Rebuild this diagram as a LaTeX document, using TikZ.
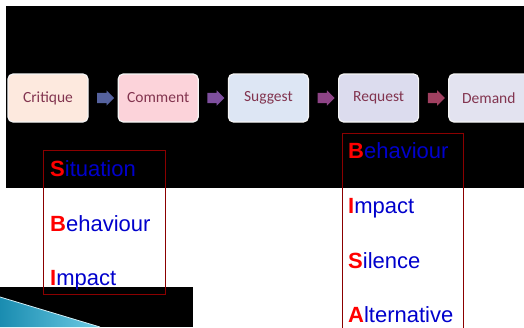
\documentclass[tikz,border=0pt]{standalone}
\usepackage{fontspec}
\setmainfont{Liberation Sans}
\newfontfamily\stagefont{Carlito}
\usetikzlibrary{shapes.arrows,positioning}
\definecolor{stagetext}{HTML}{82344F}
\definecolor{framered}{HTML}{8B0000}
\definecolor{wordblue}{HTML}{0000CC}
\definecolor{wordred}{HTML}{FF0000}
\definecolor{tealdark}{HTML}{1A8CB0}
\definecolor{teallight}{HTML}{6CCBE4}
\definecolor{critfill}{HTML}{FDE9DE}
\definecolor{commfill}{HTML}{FCD3DA}
\definecolor{suggfill}{HTML}{DDE6F4}
\definecolor{requfill}{HTML}{DCDCEE}
\definecolor{demafill}{HTML}{E3E3F0}
\definecolor{arrone}{HTML}{55629E}
\definecolor{arrtwo}{HTML}{7E4F9E}
\definecolor{arrthree}{HTML}{8E4486}
\definecolor{arrfour}{HTML}{A04060}
\newcommand{\initial}[2]{\textcolor{wordred}{\textbf{#1}}#2}
\begin{document}
\begin{tikzpicture}[x=1pt,y=-1pt,
 stage/.style={draw=white!92!gray,line width=1.2pt,rounded corners=5pt,
  minimum width=80pt,minimum height=48pt,inner sep=0pt,
  font=\stagefont\fontsize{15.5}{18}\selectfont,text=stagetext},
 arr/.style={single arrow,draw=none,minimum height=17pt,inner xsep=0pt,
  inner ysep=5pt,single arrow head extend=2.5pt},
 frame/.style={draw=framered,line width=0.6pt},
 word/.style={anchor=base west,inner sep=0pt,text=wordblue,
  font=\fontsize{22}{26}\selectfont}]
\clip (0,0) rectangle (524,327);
\fill[white] (0,0) rectangle (524,327);
% slide backgrounds
\fill[black] (6,6) rectangle (524,188);
\fill[black] (0,287) rectangle (193,327);
\shade[left color=tealdark,right color=teallight] (0,297) -- (100,327) -- (0,327) -- cycle;
\draw[white!70!teallight,line width=0.8pt] (0,297) -- (100,327);
% stages
\node[stage,fill=critfill] (crit) at (48,98) {Critique};
\node[stage,fill=commfill,right=29pt of crit] (comm) {Comment};
\node[stage,fill=suggfill,right=29pt of comm] (sugg) {Suggest};
\node[stage,fill=requfill,right=29pt of sugg] (requ) {Request};
\node[stage,fill=demafill,right=29pt of requ] (dema) {Demand};
\path (crit) -- node[arr,fill=arrone] (a1) {} (comm);
\path (comm) -- node[arr,fill=arrtwo] (a2) {} (sugg);
\path (sugg) -- node[arr,fill=arrthree] (a3) {} (requ);
\path (requ) -- node[arr,fill=arrfour] (a4) {} (dema);
% SBI
\draw[frame] (43,150) rectangle (165,294);
\node[word] (s1) at (50,176) {\initial{S}{ituation}};
\node[word] (s2) at (50,231) {\initial{B}{ehaviour}};
\node[word] (s3) at (50,285) {\initial{I}{mpact}};
% BISA
\draw[frame] (342,133) rectangle (463,340);
\node[word] (b1) at (348,158) {\initial{B}{ehaviour}};
\node[word] (b2) at (348,213) {\initial{I}{mpact}};
\node[word] (b3) at (348,268) {\initial{S}{ilence}};
\node[word] (b4) at (348,322) {\initial{A}{lternative}};
\end{tikzpicture}
\end{document}
